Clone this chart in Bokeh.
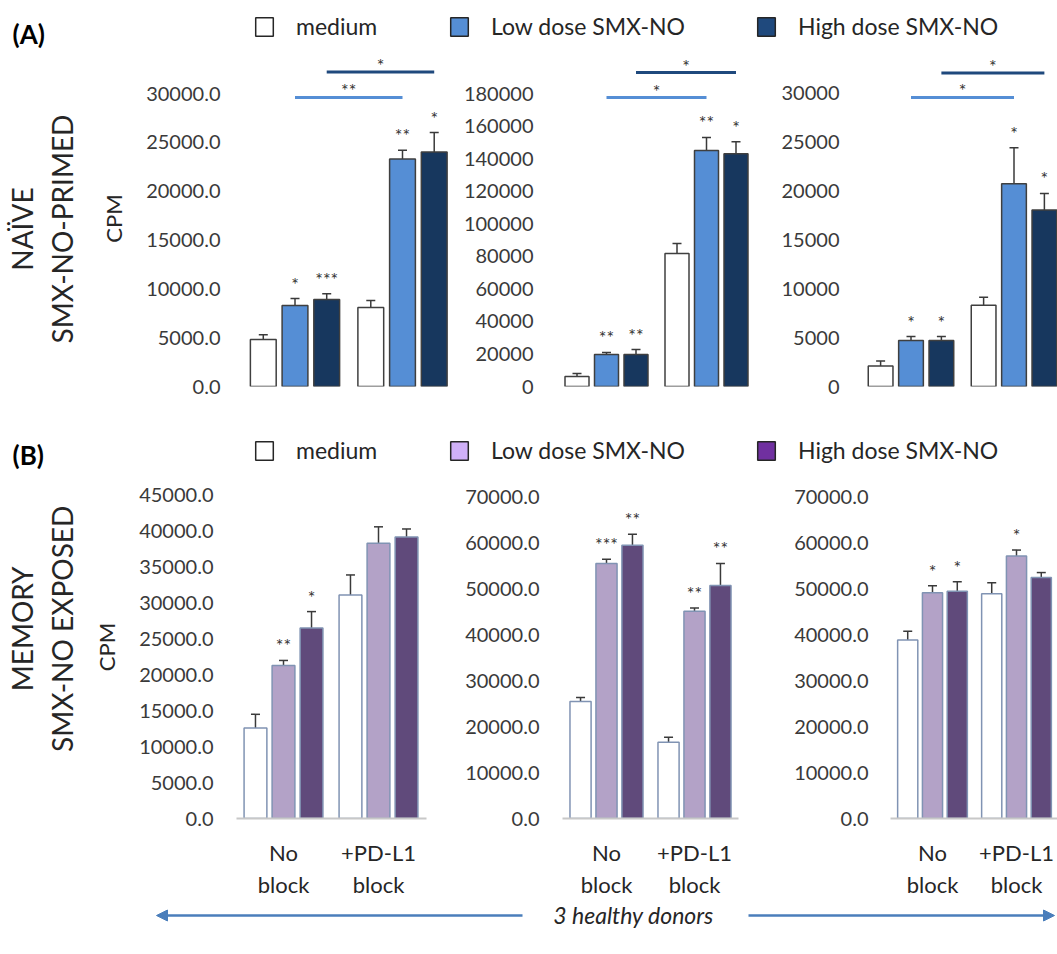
import math
from bokeh.plotting import figure
from bokeh.models import (Range1d, FixedTicker, NumeralTickFormatter, ColumnDataSource,
                          Whisker, TeeHead, Legend, LegendItem, Arrow, NormalHead)
from bokeh.layouts import column, row
from bokeh.embed import file_html
from bokeh.resources import INLINE
from bokeh.core.properties import value

FONT = "Lato"

# ---------------- data ----------------
GROUP_LABELS = ["No\nblock", "+PD-L1\nblock"]
SERIES = ["medium", "Low dose SMX-NO", "High dose SMX-NO"]

# (A) NAIVE, SMX-NO-primed : donor 1..3   [No block, +PD-L1 block]
A1_MEDIUM = [4800, 8100]
A1_MEDIUM_ERR = [500, 700]
A1_LOW = [8300, 23300]
A1_LOW_ERR = [700, 900]
A1_HIGH = [8900, 24000]
A1_HIGH_ERR = [600, 2000]
A1_STARS = [["", ""], ["*", "**"], ["***", "*"]]
A1_BRACKETS = [29600, 32200]
A1_BRACKET_STARS = ["**", "*"]
A1_TICKS = [0, 5000, 10000, 15000, 20000, 25000, 30000]

A2_MEDIUM = [6100, 81700]
A2_MEDIUM_ERR = [1900, 6100]
A2_LOW = [19700, 145000]
A2_LOW_ERR = [1200, 8000]
A2_HIGH = [19700, 143000]
A2_HIGH_ERR = [3000, 7400]
A2_STARS = [["", ""], ["**", "**"], ["**", "*"]]
A2_BRACKETS = [177500, 192900]
A2_BRACKET_STARS = ["*", "*"]
A2_TICKS = [0, 20000, 40000, 60000, 80000, 100000, 120000, 140000, 160000, 180000]

A3_MEDIUM = [2100, 8300]
A3_MEDIUM_ERR = [500, 800]
A3_LOW = [4700, 20700]
A3_LOW_ERR = [400, 3650]
A3_HIGH = [4700, 18000]
A3_HIGH_ERR = [400, 1700]
A3_STARS = [["", ""], ["*", "*"], ["*", "*"]]
A3_BRACKETS = [29500, 32000]
A3_BRACKET_STARS = ["*", "*"]
A3_TICKS = [0, 5000, 10000, 15000, 20000, 25000, 30000]

# (B) MEMORY, SMX-NO exposed : donor 1..3
B1_MEDIUM = [12600, 31100]
B1_MEDIUM_ERR = [1900, 2800]
B1_LOW = [21300, 38300]
B1_LOW_ERR = [700, 2300]
B1_HIGH = [26500, 39200]
B1_HIGH_ERR = [2300, 1100]
B1_STARS = [["", ""], ["**", ""], ["*", ""]]
B1_TICKS = [0, 5000, 10000, 15000, 20000, 25000, 30000, 35000, 40000, 45000]

B2_MEDIUM = [25500, 16600]
B2_MEDIUM_ERR = [900, 1100]
B2_LOW = [55600, 45200]
B2_LOW_ERR = [900, 700]
B2_HIGH = [59600, 50800]
B2_HIGH_ERR = [2400, 4800]
B2_STARS = [["", ""], ["***", "**"], ["**", "**"]]
B2_TICKS = [0, 10000, 20000, 30000, 40000, 50000, 60000, 70000]

B3_MEDIUM = [38900, 49000]
B3_MEDIUM_ERR = [1900, 2400]
B3_LOW = [49200, 57200]
B3_LOW_ERR = [1500, 1300]
B3_HIGH = [49500, 52500]
B3_HIGH_ERR = [2100, 1100]
B3_STARS = [["", ""], ["*", "*"], ["*", ""]]
B3_TICKS = [0, 10000, 20000, 30000, 40000, 50000, 60000, 70000]

# ---------------- styles ----------------
A_FILL = ["#ffffff", "#558ed5", "#17375e"]
A_LEGEND = ["#ffffff", "#558ed5", "#1f497d"]
A_OUTLINE = "#3f3f3f"
A_BRACKET = ["#558ed5", "#1f497d"]
B_FILL = ["#ffffff", "#b3a2c7", "#604a7b"]
B_LEGEND = ["#ffffff", "#d0b0f8", "#7030a0"]
B_OUTLINE = "#8093b3"
TXT = "#262626"
TICK_TXT = "#3a3a3a"
OFFS = [-0.295, 0.0, 0.295]
BAR_W = 0.24
W = 1057


def make_panel(fig_x0, fig_w, fig_y0, fig_h, frame_left, frame_bottom, centers, y_end,
               ticks, fmt, means, errs, stars, fills, outline, xaxis, ylabel=None,
               brackets=None, bracket_stars=None):
    c1, c2 = centers
    s = c2 - c1
    fl = frame_left
    fr = fig_x0 + fig_w
    xr = Range1d(1 + (fl - c1) / s, 1 + (fr - c1) / s)
    p = figure(width=fig_w, height=fig_h, x_range=xr, y_range=Range1d(0, y_end),
               output_backend="svg", toolbar_location=None,
               min_border_left=fl - fig_x0, min_border_right=0, min_border_top=0,
               min_border_bottom=fig_y0 + fig_h - frame_bottom)
    p.outline_line_color = None
    p.grid.visible = False
    p.background_fill_color = "white"
    p.border_fill_color = "white"

    ya = p.yaxis[0]
    ya.ticker = FixedTicker(ticks=ticks)
    ya.formatter = NumeralTickFormatter(format=fmt)
    ya.axis_line_color = None
    ya.major_tick_line_color = None
    ya.minor_tick_line_color = None
    ya.major_tick_out = 0
    ya.major_tick_in = 0
    ya.major_label_standoff = 12
    ya.major_label_text_font = FONT
    ya.major_label_text_font_size = "20px"
    ya.major_label_text_color = TICK_TXT
    if ylabel:
        ya.axis_label = ylabel
        ya.axis_label_text_font = FONT
        ya.axis_label_text_font_size = "22px"
        ya.axis_label_text_font_style = "normal"
        ya.axis_label_text_color = TXT
        ya.axis_label_standoff = 16

    xa = p.xaxis[0]
    if xaxis:
        xa.ticker = FixedTicker(ticks=[1, 2])
        xa.major_label_overrides = {1: GROUP_LABELS[0], 2: GROUP_LABELS[1]}
        xa.bounds = (0.5, 2.5)
        xa.axis_line_color = "#c8c8c8"
        xa.axis_line_width = 2
        xa.major_tick_line_color = None
        xa.minor_tick_line_color = None
        xa.major_tick_out = 0
        xa.major_tick_in = 0
        xa.major_label_standoff = 20
        xa.major_label_text_font = FONT
        xa.major_label_text_font_size = "22px"
        xa.major_label_text_color = TXT
    else:
        xa.visible = False

    for i in range(3):
        xs = [g + OFFS[i] for g in (1, 2)]
        src = ColumnDataSource(dict(x=xs, top=means[i],
                                    upper=[m + e for m, e in zip(means[i], errs[i])],
                                    star=stars[i]))
        p.add_layout(Whisker(source=src, base="x", lower="top", upper="upper",
                             dimension="height", line_color="#3a3a3a", line_width=1.5,
                             lower_head=None,
                             upper_head=TeeHead(size=9, line_color="#3a3a3a", line_width=1.5)))
        p.vbar(x="x", top="top", bottom=0, width=BAR_W, source=src,
               fill_color=fills[i], line_color=outline, line_width=1.5)
        p.text(x="x", y="upper", text="star", source=src, text_font=value(FONT),
               text_font_size="18px", text_align="center", text_baseline="bottom",
               y_offset=-4, text_color="#333333")

    if brackets:
        for k, i in enumerate((1, 2)):
            bsrc = ColumnDataSource(dict(x0=[1 + OFFS[i]], x1=[2 + OFFS[i]],
                                         y=[brackets[k]], xm=[1.5 + OFFS[i]],
                                         t=[bracket_stars[k]]))
            p.segment(x0="x0", y0="y", x1="x1", y1="y", source=bsrc,
                      line_color=A_BRACKET[k], line_width=3)
            p.text(x="xm", y="y", text="t", source=bsrc, text_font=value(FONT),
                   text_font_size="18px", text_align="center", text_baseline="bottom",
                   y_offset=4, text_color="#333333")
    return p


def blank(w, h):
    f = figure(width=w, height=h, x_range=Range1d(0, w), y_range=Range1d(h, 0),
               x_axis_type=None, y_axis_type=None, output_backend="svg",
               toolbar_location=None, min_border=0)
    f.outline_line_color = None
    f.background_fill_color = "white"
    f.border_fill_color = "white"
    return f


def make_header(h, tag, tag_y, fills, legend_bottom):
    f = blank(W, h)
    f.text(x=[12], y=[tag_y], text=[tag], text_font=value(FONT), text_font_style="bold",
           text_font_size="26px", text_baseline="middle", text_align="left",
           text_color="#000000")
    for name, fill, lx in zip(SERIES, fills, (253, 448, 755)):
        # swatch renderer kept outside the visible range; only its legend icon shows
        r = f.quad(left=[-60], right=[-40], top=[-60], bottom=[-40], fill_color=fill,
                   line_color="#262626", line_width=1.5)
        leg = Legend(items=[LegendItem(label=name, renderers=[r])], location=(lx, legend_bottom),
                     orientation="horizontal", padding=0, margin=0, glyph_width=22,
                     glyph_height=23, label_standoff=21, label_text_font=FONT,
                     label_text_font_size="23px", label_text_color=TXT,
                     border_line_color=None, background_fill_alpha=0)
        f.add_layout(leg)
    return f


def make_rowlabel(w, h, lines, xs, yc):
    f = blank(w, h)
    f.text(x=xs, y=[yc] * len(lines), text=lines, angle=math.pi / 2,
           text_font=value(FONT), text_font_size="28px", text_align="center",
           text_baseline="middle", text_color=TXT)
    return f


# ---------------- layout ----------------
hdrA = make_header(50, "(A)", 33, A_LEGEND, 10)
labA = make_rowlabel(90, 350, ["NAÏVE", "SMX-NO-PRIMED"], [21, 61], 186)
pA1 = make_panel(90, 370, 50, 350, 232, 386, (294.5, 402.0), 30000 * 336 / 293, A1_TICKS, "0.0",
                 [A1_MEDIUM, A1_LOW, A1_HIGH], [A1_MEDIUM_ERR, A1_LOW_ERR, A1_HIGH_ERR],
                 A1_STARS, A_FILL, A_OUTLINE, False, "CPM", A1_BRACKETS, A1_BRACKET_STARS)
pA2 = make_panel(460, 310, 50, 350, 545, 386, (606.0, 706.0), 180000 * 336 / 293, A2_TICKS, "0",
                 [A2_MEDIUM, A2_LOW, A2_HIGH], [A2_MEDIUM_ERR, A2_LOW_ERR, A2_HIGH_ERR],
                 A2_STARS, A_FILL, A_OUTLINE, False, None, A2_BRACKETS, A2_BRACKET_STARS)
pA3 = make_panel(770, 287, 50, 350, 851, 386, (910.5, 1013.5), 30000 * 336 / 294, A3_TICKS, "0",
                 [A3_MEDIUM, A3_LOW, A3_HIGH], [A3_MEDIUM_ERR, A3_LOW_ERR, A3_HIGH_ERR],
                 A3_STARS, A_FILL, A_OUTLINE, False, None, A3_BRACKETS, A3_BRACKET_STARS)

hdrB = make_header(75, "(B)", 54, B_LEGEND, 11)
labB = make_rowlabel(90, 425, ["MEMORY", "SMX-NO EXPOSED"], [21, 61], 190)
pB1 = make_panel(90, 370, 475, 425, 225, 823, (283.0, 378.0), 45000 * 348 / 328, B1_TICKS, "0.0",
                 [B1_MEDIUM, B1_LOW, B1_HIGH], [B1_MEDIUM_ERR, B1_LOW_ERR, B1_HIGH_ERR],
                 B1_STARS, B_FILL, B_OUTLINE, True, "CPM")
pB2 = make_panel(460, 310, 475, 425, 551, 819, (606.0, 694.0), 70000 * 344 / 322, B2_TICKS, "0.0",
                 [B2_MEDIUM, B2_LOW, B2_HIGH], [B2_MEDIUM_ERR, B2_LOW_ERR, B2_HIGH_ERR],
                 B2_STARS, B_FILL, B_OUTLINE, True)
pB3 = make_panel(770, 287, 475, 425, 880, 821, (932.0, 1016.0), 70000 * 346 / 324, B3_TICKS, "0.0",
                 [B3_MEDIUM, B3_LOW, B3_HIGH], [B3_MEDIUM_ERR, B3_LOW_ERR, B3_HIGH_ERR],
                 B3_STARS, B_FILL, B_OUTLINE, True)

foot = blank(W, 54)
ARROW_C = "#4a7ebb"
foot.add_layout(Arrow(end=NormalHead(size=11, fill_color=ARROW_C, line_color=ARROW_C),
                      x_start=522, y_start=15, x_end=156, y_end=15,
                      line_color=ARROW_C, line_width=2.5))
foot.add_layout(Arrow(end=NormalHead(size=11, fill_color=ARROW_C, line_color=ARROW_C),
                      x_start=748, y_start=15, x_end=1054, y_end=15,
                      line_color=ARROW_C, line_width=2.5))
foot.text(x=[633], y=[14], text=["3 healthy donors"], text_font=value(FONT),
          text_font_style="italic", text_font_size="23px", text_align="center",
          text_baseline="middle", text_color=TXT)

layout = column(hdrA, row(labA, pA1, pA2, pA3), hdrB, row(labB, pB1, pB2, pB3), foot)

open("out.html", "w").write(file_html(layout, INLINE))
